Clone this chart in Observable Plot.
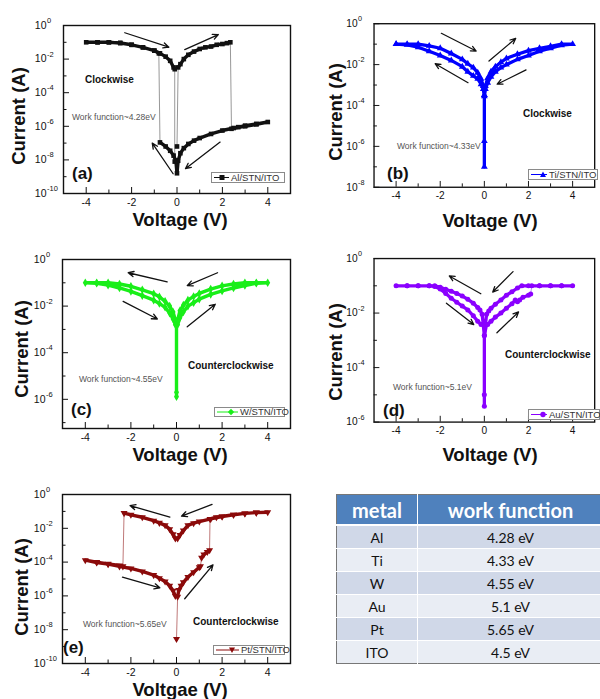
<!DOCTYPE html>
<html><head><meta charset="utf-8">
<script src="https://cdn.jsdelivr.net/npm/d3@7"></script>
<script src="https://cdn.jsdelivr.net/npm/@observablehq/plot@0.6"></script>
<style>
html,body{margin:0;padding:0;background:#fff;}
#fig{position:relative;width:600px;height:699px;overflow:hidden;background:#fff;font-family:"Liberation Sans",Arial,Helvetica,sans-serif;color:#111;}
.pnl{position:absolute;}
.pnl svg{display:block;}
.t{position:absolute;white-space:nowrap;line-height:1;}
.ytitle{font-weight:bold;font-size:18.5px;transform:translate(-50%,-50%) rotate(-90deg);}
.xtitle{font-weight:bold;font-size:18.5px;transform:translate(-50%,-50%);}
.mode{font-weight:bold;font-size:10px;transform:translateY(-50%);}
.wf{font-size:8.5px;color:#555;transform:translateY(-50%);}
.tag{font-weight:bold;font-size:17px;transform:translateY(-50%);}
.leg{position:absolute;border:1px solid #8a8a8a;background:#fff;box-sizing:border-box;display:flex;align-items:center;font-size:9.5px;color:#333;white-space:nowrap;line-height:1;}
.leg svg{display:block;flex:none;}
#tbl{position:absolute;left:336px;top:494px;width:268px;border-collapse:collapse;font-family:Lato,"Open Sans",sans-serif;border:1.5px solid #777;}
#tbl th{background:#4F81BD;color:#fff;font-size:20px;font-weight:bold;height:29px;padding:0;border-bottom:2px solid #fff;text-align:center;}
#tbl td{height:22px;padding:0;font-size:14px;color:#111;text-align:center;border-top:1px solid #fff;}
#tbl th:first-child,#tbl td:first-child{width:80px;border-right:1.5px solid #fff;}
#tbl tr.odd td{background:#D0D8E8;}
#tbl tr.even td{background:#E9EDF4;}
</style></head>
<body><div id="fig"></div>
<script>
// ---------------- data ----------------
const xMajorTicks = [-4, -2, 0, 2, 4];
const xMinorTicks = [-3, -1, 1, 3];

// (a) Al/STN/ITO  (branches in sweep order)
const alV = [
  [0],
  [0.05, 0.15, 0.3, 0.5, 0.75, 1.0, 1.25, 1.5, 1.75, 2.0, 2.2, 2.35],
  [2.4, 2.7, 3.0, 3.5, 4.0, 3.5, 3.0, 2.5, 2.0, 1.5, 1.0, 0.75, 0.5, 0.3, 0.15, 0.05, 0, -0.05, -0.15, -0.3, -0.5, -0.75],
  [-0.8, -1.0, -1.5, -2.0, -2.5, -3.0, -3.5, -4.0, -3.5, -3.0, -2.5, -2.0, -1.5, -1.0, -0.75, -0.5, -0.3, -0.15, -0.1],
  [-0.1]
];
const alI = [
  [6.3e-8],
  [3.2e-3, 5.0e-3, 1.0e-2, 1.8e-2, 2.8e-2, 4.0e-2, 5.0e-2, 5.6e-2, 7.1e-2, 7.9e-2, 8.9e-2, 1.0e-1],
  [7.1e-7, 8.9e-7, 1.1e-6, 1.4e-6, 1.8e-6, 1.3e-6, 1.0e-6, 7.9e-7, 5.6e-7, 3.5e-7, 2.0e-7, 1.4e-7, 8.9e-8, 5.0e-8, 2.5e-8, 8.9e-9, 1.6e-9, 8.9e-9, 1.8e-8, 3.5e-8, 6.3e-8, 1.1e-7],
  [2.2e-2, 3.2e-2, 5.0e-2, 7.1e-2, 8.9e-2, 1.0e-1, 1.0e-1, 1.0e-1, 1.0e-1, 1.0e-1, 9.3e-2, 7.1e-2, 5.0e-2, 3.2e-2, 2.2e-2, 1.4e-2, 7.9e-3, 3.2e-3, 2.5e-3],
  [7.9e-9]
];
const alArrows = [[-2.3, 3.7e-1, -0.36, 5.1e-2], [0.34, 3.7e-2, 1.82, 2.9e-1], [1.9, 1.15e-7, 0.37, 3.0e-9], [-0.17, 1.5e-9, -1.09, 1.0e-7]];
const alYMajor = [1, 1e-2, 1e-4, 1e-6, 1e-8, 1e-10];
const alYMinor = [1e-1, 1e-3, 1e-5, 1e-7, 1e-9];

// (b) Ti/STN/ITO
const tiV = [[-4, -3.5, -3, -2.5, -2, -1.5, -1, -0.75, -0.5, -0.3, -0.15, -0.05, 0, 0, 0, 0,
  0.05, 0.15, 0.3, 0.5, 0.75, 1, 1.5, 2, 2.5, 3, 3.5, 4,
  3.5, 3, 2.5, 2, 1.5, 1, 0.75, 0.5, 0.3, 0.15, 0.05, 0,
  -0.05, -0.15, -0.3, -0.5, -0.75, -1, -1.5, -2, -2.5, -3, -3.5, -4]];
const tiI = [[1.0e-1, 1.0e-1, 1.0e-1, 8.3e-2, 6.3e-2, 3.5e-2, 1.8e-2, 1.1e-2, 7.1e-3, 4.0e-3, 2.0e-3, 8.9e-4, 3.2e-4, 1.8e-6, 1.0e-7, 3.2e-4,
  8.9e-4, 2.2e-3, 4.5e-3, 7.9e-3, 1.3e-2, 2.0e-2, 3.2e-2, 4.8e-2, 6.3e-2, 7.9e-2, 1.0e-1, 1.0e-1,
  8.9e-2, 6.3e-2, 4.5e-2, 2.8e-2, 1.8e-2, 1.0e-2, 7.1e-3, 4.5e-3, 2.5e-3, 1.3e-3, 6.3e-4, 2.8e-4,
  6.3e-4, 1.1e-3, 2.0e-3, 2.8e-3, 4.5e-3, 7.9e-3, 1.6e-2, 2.8e-2, 4.5e-2, 7.1e-2, 9.3e-2, 1.0e-1]];
const tiArrows = [[-1.95, 3.4e-1, -0.37, 4.6e-2], [0.21, 1.5e-2, 1.42, 1.9e-1], [1.89, 5.5e-3, 0.58, 1.1e-3], [-0.74, 1.3e-3, -2.23, 1.1e-2]];
const tiYMajor = [1, 1e-2, 1e-4, 1e-6, 1e-8];
const tiYMinor = [1e-1, 1e-3, 1e-5, 1e-7];

// (c) W/STN/ITO
const wV = [[0, 0, 0, 0.05, 0.15, 0.3, 0.5, 0.75, 1, 1.5, 2, 2.5, 3, 3.5, 4,
  3.5, 3, 2.5, 2, 1.5, 1, 0.75, 0.5, 0.3, 0.15, 0.05,
  -0.05, -0.15, -0.3, -0.5, -0.75, -1, -1.5, -2, -2.5, -3, -3.5, -4,
  -3.5, -3, -2.5, -2, -1.5, -1, -0.75, -0.5, -0.3, -0.15, -0.05]];
const wI = [[1.3e-6, 2.0e-6, 1.6e-3, 1.6e-3, 3.2e-3, 5.6e-3, 1.0e-2, 1.4e-2, 2.0e-2, 3.2e-2, 4.5e-2, 6.0e-2, 7.6e-2, 9.5e-2, 1.0e-1,
  1.0e-1, 1.0e-1, 8.9e-2, 7.4e-2, 5.4e-2, 3.5e-2, 2.6e-2, 1.8e-2, 1.1e-2, 6.3e-3, 2.5e-3,
  2.5e-3, 5.6e-3, 1.0e-2, 1.6e-2, 2.5e-2, 3.4e-2, 5.0e-2, 7.1e-2, 8.9e-2, 1.0e-1, 1.0e-1, 1.0e-1,
  9.5e-2, 7.9e-2, 6.0e-2, 4.3e-2, 2.8e-2, 1.8e-2, 1.3e-2, 8.9e-3, 5.0e-3, 2.8e-3, 1.6e-3]];
const wArrows = [[-0.41, 1.1e-1, -2.12, 2.7e-1], [1.80, 2.7e-1, 0.47, 7.6e-2], [-2.34, 1.6e-2, -0.84, 2.8e-3], [0.47, 1.3e-3, 1.70, 1.2e-2]];
const wYMajor = [1, 1e-2, 1e-4, 1e-6];
const wYMinor = [1e-1, 1e-3, 1e-5, 1e-7];

// (d) Au/STN/ITO
const auV = [
  [0, 0, 0, 0.1, 0.15, 0.3, 0.5, 0.75, 1, 1.25, 1.4, 1.5, 1.6, 1.75, 2, 2.1],
  [2.15, 2.5, 3, 3.5, 4, 3.5, 3, 2.5, 2, 1.7, 1.5, 1.25, 1, 0.75, 0.5, 0.3, 0.2, 0.1, 0,
   -0.1, -0.2, -0.3, -0.5, -0.75, -1, -1.25, -1.5, -1.75, -2, -2.25, -2.5, -3, -3.5, -4,
   -3.5, -3, -2.5, -2.25, -2, -1.75, -1.5, -1.25, -1, -0.75, -0.5, -0.3, -0.15]
];
const auI = [
  [3.8e-6, 1.0e-5, 1.5e-3, 3.8e-3, 3.8e-3, 5.0e-3, 7.1e-3, 1.0e-2, 1.5e-2, 2.2e-2, 3.0e-2, 2.6e-2, 3.0e-2, 3.8e-2, 4.5e-2, 5.0e-2],
  [1.0e-1, 1.0e-1, 1.0e-1, 1.0e-1, 1.0e-1, 1.0e-1, 1.0e-1, 1.0e-1, 1.0e-1, 1.0e-1, 8.3e-2, 6.0e-2, 4.5e-2, 3.0e-2, 2.1e-2, 1.5e-2, 1.2e-2, 9.1e-3, 1.5e-3,
   9.1e-3, 1.3e-2, 1.6e-2, 2.3e-2, 3.2e-2, 4.2e-2, 5.2e-2, 6.3e-2, 7.4e-2, 8.9e-2, 1.0e-1, 1.0e-1, 1.0e-1, 1.0e-1, 1.0e-1,
   1.0e-1, 1.0e-1, 1.0e-1, 9.5e-2, 7.6e-2, 5.2e-2, 3.5e-2, 2.5e-2, 1.8e-2, 1.3e-2, 7.9e-3, 5.0e-3, 3.8e-3]
];
const auArrows = [[-0.16, 5.1e-2, -1.59, 2.3e-1], [1.30, 3.3e-1, 0.38, 5.9e-2], [-1.72, 2.3e-2, -0.48, 3.8e-3], [0.57, 1.9e-3, 1.55, 1.1e-2]];
const auYMajor = [1, 1e-2, 1e-4, 1e-6];
const auYMinor = [1e-1, 1e-3, 1e-5];

// (e) Pt/STN/ITO
const ptV = [
  [0],
  [0.05, 0.1, 0.2, 0.3, 0.5, 0.75, 1.0, 1.05],
  [1.1, 1.2, 1.35, 1.45],
  [1.47, 1.75, 2, 2.5, 3, 3.5, 4, 3.5, 3, 2.5, 2, 1.5, 1, 0.75, 0.5, 0.3, 0.15, 0.05, -0.05, -0.15, -0.3, -0.5, -0.75, -1, -1.5, -2, -2.3],
  [-2.35, -2.5, -3, -3.5, -4, -3.5, -3, -2.5, -2, -1.5, -1, -0.75, -0.5, -0.3, -0.15, -0.05]
];
const ptI = [
  [2.8e-9],
  [8.9e-7, 2.2e-6, 4.0e-6, 6.3e-6, 1.3e-5, 2.5e-5, 5.0e-5, 5.6e-5],
  [1.8e-4, 2.8e-4, 4.0e-4, 5.0e-4],
  [3.6e-2, 4.5e-2, 5.0e-2, 6.3e-2, 7.6e-2, 8.5e-2, 8.9e-2, 8.5e-2, 7.6e-2, 6.3e-2, 5.0e-2, 3.6e-2, 2.5e-2, 2.0e-2, 1.5e-2, 7.4e-3, 4.0e-3, 2.5e-3, 2.5e-3, 4.5e-3, 8.9e-3, 1.5e-2, 2.1e-2, 2.8e-2, 4.5e-2, 6.3e-2, 7.9e-2],
  [5.6e-5, 6.3e-5, 7.9e-5, 1.0e-4, 1.3e-4, 9.5e-5, 7.6e-5, 5.6e-5, 4.2e-5, 2.8e-5, 1.7e-5, 1.1e-5, 7.1e-6, 4.0e-6, 2.0e-6, 1.0e-6]
];
const ptArrows = [[-0.29, 4.6e-2, -2.04, 2.2e-1], [1.56, 2.6e-1, 0.22, 5.2e-2], [-2.37, 1.3e-5, -0.73, 3.0e-6], [0.36, 6.8e-7, 1.6, 6.9e-5]];
const ptYMajor = [1, 1e-2, 1e-4, 1e-6, 1e-8, 1e-10];
const ptYMinor = [1e-1, 1e-3, 1e-5, 1e-7, 1e-9];

// table
const tableHeader = ["metal", "work function"];
const metals = ["Al", "Ti", "W", "Au", "Pt", "ITO"];
const workFunctions = ["4.28 eV", "4.33 eV", "4.55 eV", "5.1 eV", "5.65 eV", "4.5 eV"];

// ---------------- layout ----------------
const FONT = '"Liberation Sans", Arial, Helvetica, sans-serif';
const panels = [
  {V: alV, I: alI, arrows: alArrows, yMajor: alYMajor, yMinor: alYMinor, yDomain: [1e-10, 1],
   left: 0, top: 0, w: 300, h: 230, ml: 63, mr: 10, mt: 25, mb: 37,
   color: "#111", thin: "#8c8c8c", symbol: "square", rot: 0,
   ytitle: [19, 116], xtitle: [180, 219.8], xlabel: "Voltage (V)",
   mode: ["Clockwise", 85, 80], wf: ["Work function~4.28eV", 72, 117], tag: ["(a)", 72, 173],
   leg: {label: "Al/STN/ITO", x: 211, y: 172, w: 74, h: 11, sw: 15, mx: 8}},
  {V: tiV, I: tiI, arrows: tiArrows, yMajor: tiYMajor, yMinor: tiYMinor, yDomain: [1e-8, 1],
   left: 300, top: 0, w: 310, h: 230, ml: 76, mr: 6, mt: 24, mb: 37,
   color: "#0000ff", thin: "#3a3aff", symbol: "triangle", rot: 0,
   ytitle: [336, 112], xtitle: [490, 220.5], xlabel: "Voltage (V)",
   mode: ["Clockwise", 523, 114], wf: ["Work function~4.33eV", 397, 146], tag: ["(b)", 387, 173],
   leg: {label: "Ti/STN/ITO", x: 528, y: 169, w: 70, h: 11, sw: 16, mx: 12}},
  {V: wV, I: wI, arrows: wArrows, yMajor: wYMajor, yMinor: wYMinor, yDomain: [5.6e-8, 1],
   left: 0, top: 230, w: 300, h: 230, ml: 62, mr: 10, mt: 29, mb: 32,
   color: "#19ee19", thin: "#19ee19", symbol: "diamond", rot: 0,
   ytitle: [22, 349], xtitle: [180, 454.5], xlabel: "Voltage (V)",
   mode: ["Counterclockwise", 188, 366], wf: ["Work function~4.55eV", 79, 379], tag: ["(c)", 71, 409],
   leg: {label: "W/STN/ITO", x: 214, y: 407, w: 71, h: 10, sw: 21, mx: 14}},
  {V: auV, I: auI, arrows: auArrows, yMajor: auYMajor, yMinor: auYMinor, yDomain: [1e-6, 1],
   left: 300, top: 230, w: 310, h: 230, ml: 76, mr: 6, mt: 29, mb: 32,
   color: "#8a00ff", thin: "#b27aff", symbol: "circle", rot: 0,
   ytitle: [336, 352], xtitle: [490, 454.5], xlabel: "Voltage (V)",
   mode: ["Counterclockwise", 505, 355], wf: ["Work function~5.1eV", 393, 387], tag: ["(d)", 383, 410],
   leg: {label: "Au/STN/ITO", x: 528, y: 409, w: 72, h: 11, sw: 16, mx: 12}},
  {V: ptV, I: ptI, arrows: ptArrows, yMajor: ptYMajor, yMinor: ptYMinor, yDomain: [1e-10, 1],
   left: 0, top: 470, w: 300, h: 229, ml: 62, mr: 10, mt: 24, mb: 36,
   color: "#8b0a0a", thin: "#b86a6a", symbol: "triangle", rot: 180,
   ytitle: [22, 587], xtitle: [180, 689.5], xlabel: "Voltgae (V)",
   mode: ["Counterclockwise", 193, 622], wf: ["Work function~5.65eV", 83, 624], tag: ["(e)", 63, 647],
   leg: {label: "Pt/STN/ITO", x: 213, y: 645, w: 72, h: 10, sw: 23, mx: 16}}
];

const fig = document.getElementById("fig");

function addText(cls, txt, x, y) {
  const d = document.createElement("div");
  d.className = "t " + cls;
  d.textContent = txt;
  d.style.left = x + "px";
  d.style.top = y + "px";
  fig.appendChild(d);
}

function markerSvg(symbol, rot, color, cx, cy) {
  if (symbol === "square") return `<rect x="${cx - 2.5}" y="${cy - 2.5}" width="5" height="5" fill="${color}"/>`;
  if (symbol === "circle") return `<circle cx="${cx}" cy="${cy}" r="2.7" fill="${color}"/>`;
  if (symbol === "diamond") return `<polygon points="${cx},${cy - 3.2} ${cx + 3.2},${cy} ${cx},${cy + 3.2} ${cx - 3.2},${cy}" fill="${color}"/>`;
  if (rot === 180) return `<polygon points="${cx - 3},${cy - 2.5} ${cx + 3},${cy - 2.5} ${cx},${cy + 3}" fill="${color}"/>`;
  return `<polygon points="${cx - 3},${cy + 2.5} ${cx + 3},${cy + 2.5} ${cx},${cy - 3}" fill="${color}"/>`;
}

for (const p of panels) {
  const pts = p.V.flatMap((seg, b) => seg.map((v, i) => ({v, c: p.I[b][i], b})));
  const arr = p.arrows.map(([x1, y1, x2, y2]) => ({x1, y1, x2, y2}));
  const chart = Plot.plot({
    width: p.w, height: p.h,
    marginLeft: p.ml, marginRight: p.mr, marginTop: p.mt, marginBottom: p.mb,
    x: {domain: [-5, 5]},
    y: {type: "log", domain: p.yDomain},
    style: {fontFamily: FONT, background: "transparent", color: "#111"},
    marks: [
      Plot.line(pts, {x: "v", y: "c", stroke: p.thin, strokeWidth: 0.9}),
      Plot.line(pts, {x: "v", y: "c", z: "b", stroke: p.color, strokeWidth: 3.4, strokeLinejoin: "round", strokeLinecap: "round"}),
      Plot.dot(pts, {x: "v", y: "c", symbol: p.symbol, r: 2.6, fill: p.color, rotate: p.rot}),
      Plot.arrow(arr, {x1: "x1", y1: "y1", x2: "x2", y2: "y2", stroke: "#111", strokeWidth: 1.3, headLength: 7, headAngle: 50}),
      Plot.axisX(xMajorTicks, {tickSize: -6, fill: "none", label: null}),
      Plot.axisX(xMinorTicks, {tickSize: -3.5, fill: "none", label: null}),
      Plot.axisX(xMajorTicks, {tickSize: 0, tickPadding: 5, fontSize: 10.5, tickFormat: d => String(d), label: null}),
      Plot.axisY(p.yMajor, {tickSize: -6, fill: "none", label: null}),
      Plot.axisY(p.yMinor, {tickSize: -3.5, fill: "none", label: null}),
      Plot.text(p.yMajor, {y: d => d, text: () => "10", frameAnchor: "left", textAnchor: "end", dx: -17, fontSize: 10.5}),
      Plot.text(p.yMajor, {y: d => d, text: d => String(Math.round(Math.log10(d))), frameAnchor: "left", textAnchor: "start", dx: -16.5, dy: -5, fontSize: 7.5}),
      Plot.frame({stroke: "#111", strokeWidth: 1.4})
    ]
  });
  const wrap = document.createElement("div");
  wrap.className = "pnl";
  wrap.style.left = p.left + "px";
  wrap.style.top = p.top + "px";
  wrap.appendChild(chart);
  fig.appendChild(wrap);

  addText("ytitle", "Current (A)", p.ytitle[0], p.ytitle[1]);
  addText("xtitle", p.xlabel, p.xtitle[0], p.xtitle[1]);
  addText("mode", p.mode[0], p.mode[1], p.mode[2]);
  addText("wf", p.wf[0], p.wf[1], p.wf[2]);
  addText("tag", p.tag[0], p.tag[1], p.tag[2]);

  const L = p.leg;
  const lg = document.createElement("div");
  lg.className = "leg";
  lg.style.left = L.x + "px"; lg.style.top = L.y + "px";
  lg.style.width = L.w + "px"; lg.style.height = L.h + "px";
  const sh = L.h - 2;
  lg.innerHTML = `<svg width="${L.sw + 3}" height="${sh}"><line x1="2" x2="${L.sw + 2}" y1="${sh / 2}" y2="${sh / 2}" stroke="${p.color}" stroke-width="1"/>${markerSvg(p.symbol, p.rot, p.color, L.mx + 2, sh / 2)}</svg><span style="margin-left:1px">${L.label}</span>`;
  fig.appendChild(lg);
}

// table
const tbl = document.createElement("table");
tbl.id = "tbl";
const thead = document.createElement("thead");
const hr = document.createElement("tr");
for (const h of tableHeader) { const th = document.createElement("th"); th.textContent = h; hr.appendChild(th); }
thead.appendChild(hr); tbl.appendChild(thead);
const tbody = document.createElement("tbody");
metals.forEach((m, i) => {
  const tr = document.createElement("tr");
  tr.className = i % 2 === 0 ? "odd" : "even";
  const a = document.createElement("td"); a.textContent = m;
  const b = document.createElement("td"); b.textContent = workFunctions[i];
  tr.appendChild(a); tr.appendChild(b); tbody.appendChild(tr);
});
tbl.appendChild(tbody);
fig.appendChild(tbl);
</script>
</body></html>
